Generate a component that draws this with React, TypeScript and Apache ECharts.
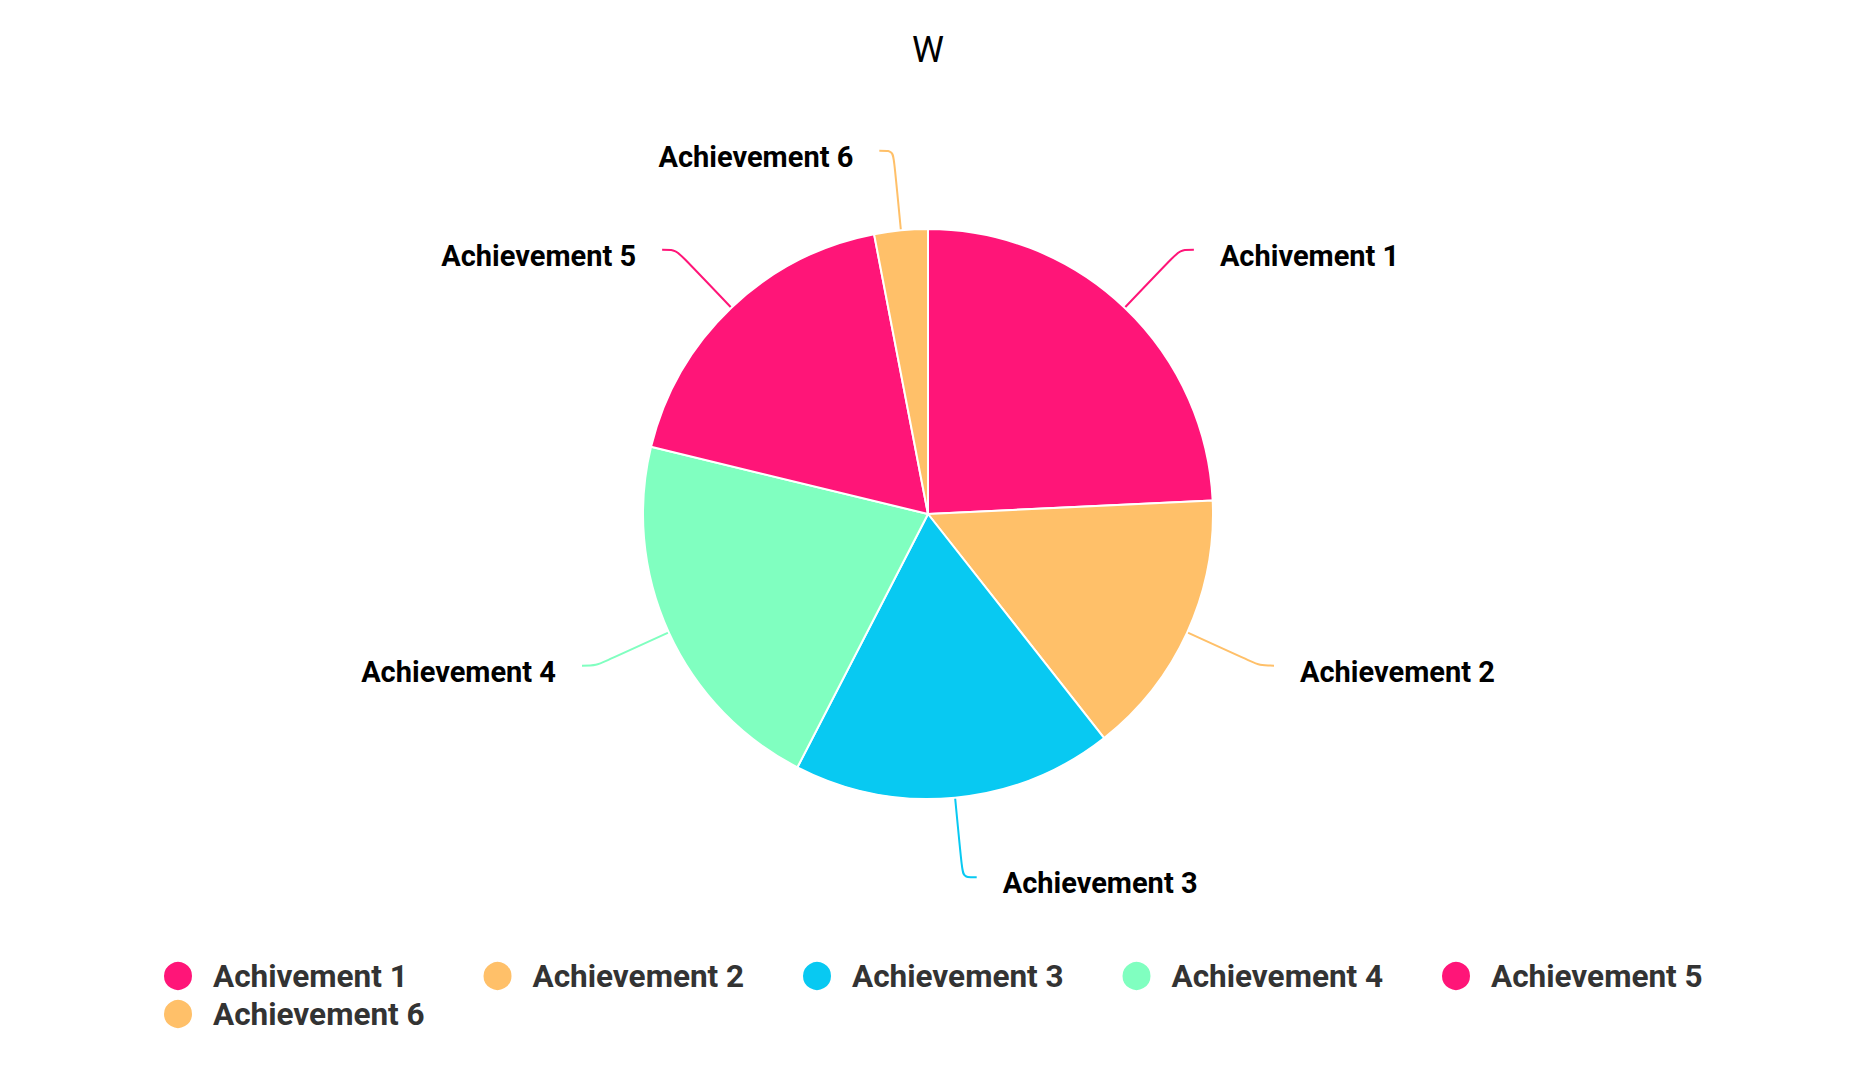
import React, { useEffect, useRef } from 'react';
import * as echarts from 'echarts';

const TITLE = 'W';

const CATEGORIES: string[] = [
  'Achivement 1',
  'Achievement 2',
  'Achievement 3',
  'Achievement 4',
  'Achievement 5',
  'Achievement 6',
];

const VALUES: number[] = [8, 5, 6, 7, 6, 1];

const COLORS: string[] = ['#FF1578', '#FFC069', '#08C9F2', '#80FFC0', '#FF1578', '#FFC069'];

const FONT = 'Roboto, "Noto Sans", sans-serif';

export default function App() {
  const chartRef = useRef<HTMLDivElement>(null);

  useEffect(() => {
    if (!chartRef.current) return;
    const chart = echarts.init(chartRef.current, undefined, { renderer: 'svg' });

    chart.setOption({
      animation: false,
      backgroundColor: '#fff',
      color: COLORS,
      title: {
        text: TITLE,
        left: 'center',
        top: 27,
        textStyle: {
          fontFamily: FONT,
          fontSize: 36,
          fontWeight: 'normal',
          color: '#000',
        },
      },
      legend: {
        data: CATEGORIES,
        icon: 'circle',
        left: 157,
        top: 955,
        itemWidth: 60,
        itemHeight: 30,
        itemGap: 6,
        // fixed-width legend text (transparent bg so the box counts in layout)
        formatter: '{t|{name}}',
        textStyle: {
          rich: {
            t: {
              fontFamily: FONT,
              fontSize: 31.5,
              fontWeight: 'bold',
              color: '#333',
              width: 262.5,
              lineHeight: 30,
              backgroundColor: 'rgba(255,255,255,0)',
            },
          },
        },
      },
      series: [
        {
          type: 'pie',
          center: [928, 514],
          radius: 285,
          startAngle: 90,
          clockwise: true,
          itemStyle: {
            borderColor: '#fff',
            borderWidth: 2,
          },
          label: {
            show: true,
            position: 'outside',
            formatter: '{l|{b}}',
            distanceToLabelLine: 26,
            rich: {
              l: {
                fontFamily: FONT,
                fontSize: 29,
                fontWeight: 'bold',
                color: '#000',
                padding: [12, 0, 0, 0],
              },
            },
          },
          labelLine: {
            show: true,
            length: 80,
            length2: 14,
            smooth: true,
            lineStyle: { width: 2 },
          },
          data: CATEGORIES.map((name, i) => ({ name, value: VALUES[i] })),
        },
      ],
    });

    const handleResize = () => chart.resize();
    window.addEventListener('resize', handleResize);
    return () => {
      window.removeEventListener('resize', handleResize);
      chart.dispose();
    };
  }, []);

  return (
    <div
      ref={chartRef}
      style={{ position: 'fixed', left: 0, top: 0, width: '100vw', height: '100vh' }}
    />
  );
}
